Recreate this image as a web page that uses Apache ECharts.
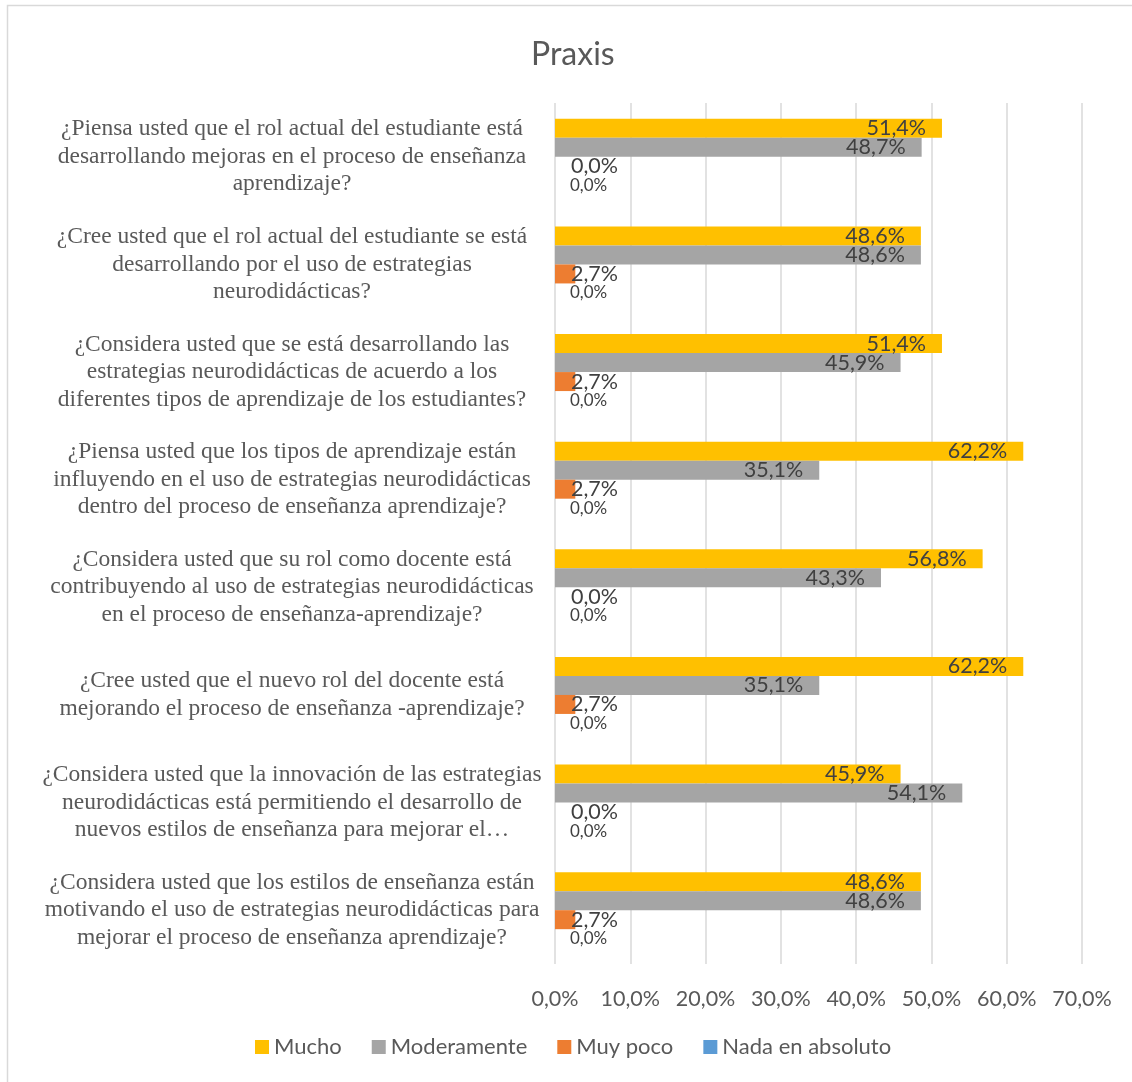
<!DOCTYPE html>
<html>
<head>
<meta charset="utf-8">
<title>Praxis</title>
<script src="https://cdn.jsdelivr.net/npm/echarts@6/dist/echarts.min.js"></script>
<style>
html, body { margin: 0; padding: 0; background: #fff; }
#main { width: 1132px; height: 1082px; }
</style>
</head>
<body>
<div id="main"></div>
<script>
// preguntas (eje vertical)
var categories = [
	"¿Piensa usted que el rol actual del estudiante está\ndesarrollando mejoras en el proceso de enseñanza\naprendizaje?",
	"¿Cree usted que el rol actual del estudiante se está\ndesarrollando por el uso de estrategias\nneurodidácticas?",
	"¿Considera usted que se está desarrollando las\nestrategias neurodidácticas de acuerdo a los\ndiferentes tipos de aprendizaje de los estudiantes?",
	"¿Piensa usted que los tipos de aprendizaje están\ninfluyendo en el uso de estrategias neurodidácticas\ndentro del proceso de enseñanza aprendizaje?",
	"¿Considera usted que su rol como docente está\ncontribuyendo al uso de estrategias neurodidácticas\nen el proceso de enseñanza-aprendizaje?",
	"¿Cree usted que el nuevo rol del docente está\nmejorando el proceso de enseñanza -aprendizaje?",
	"¿Considera usted que la innovación de las estrategias\nneurodidácticas está permitiendo el desarrollo de\nnuevos estilos de enseñanza para mejorar el…",
	"¿Considera usted que los estilos de enseñanza están\nmotivando el uso de estrategias neurodidácticas para\nmejorar el proceso de enseñanza aprendizaje?"
];

var mucho       = [51.4, 48.6, 51.4, 62.2, 56.8, 62.2, 45.9, 48.6];
var moderamente = [48.7, 48.6, 45.9, 35.1, 43.3, 35.1, 54.1, 48.6];
var muyPoco     = [0.0, 2.7, 2.7, 2.7, 0.0, 2.7, 0.0, 2.7];
var nada        = [0.0, 0.0, 0.0, 0.0, 0.0, 0.0, 0.0, 0.0];

var xTicks = [0, 10, 20, 30, 40, 50, 60, 70];

var fmt = function(v){
	return v.toFixed(1).replace(".", ",") + "%";
}
var labelFmt = function(p){ return fmt(p.value); }

var sansFont = "Lato, 'Open Sans', sans-serif";
var txtColor = "#404040";

var chart = echarts.init(document.getElementById("main"));

var option = {
	backgroundColor: "#ffffff",
	animation: false,
	title: {
		text: "Praxis",
		left: 526,
		top: 34,
		textStyle: { fontFamily: sansFont, fontSize: 32, fontWeight: "normal", color: "#595959" }
	},
	legend: {
		bottom: 19,
		left: 250,
		itemWidth: 14,
		itemHeight: 14,
		itemGap: 30,
		icon: "rect",
		textStyle: { fontFamily: sansFont, fontSize: 22, color: "#595959" },
		data: ["Mucho", "Moderamente", "Muy poco", "Nada en absoluto"]
	},
	grid: { left: 555, right: 50, top: 103, bottom: 118 },
	xAxis: {
		type: "value",
		min: xTicks[0],
		max: xTicks[xTicks.length - 1],
		interval: 10,
		axisLine: { show: false },
		axisTick: { show: false },
		splitLine: { lineStyle: { color: "#d9d9d9", width: 1.5 } },
		axisLabel: {
			margin: 24,
			fontFamily: sansFont,
			fontSize: 21.5,
			color: "#595959",
			formatter: function(v){ return fmt(v); }
		}
	},
	yAxis: {
		type: "category",
		inverse: true,
		data: categories,
		axisLine: { show: false },
		axisTick: { show: false },
		axisLabel: {
			align: "center",
			margin: 263,
			padding: [12, 0, 0, 0],
			fontFamily: "'Liberation Serif', 'Times New Roman', serif",
			fontSize: 23.5,
			lineHeight: 27.5,
			color: "#595959"
		}
	},
	series: [
		{
			name: "Mucho", type: "bar", data: mucho,
			barWidth: 19, barGap: "0%",
			itemStyle: { color: "#ffc000" },
			label: { show: true, position: "insideRight", distance: 16, formatter: labelFmt,
				fontFamily: sansFont, fontSize: 21.5, color: txtColor }
		},
		{
			name: "Moderamente", type: "bar", data: moderamente,
			barWidth: 19, barGap: "0%",
			itemStyle: { color: "#a5a5a5" },
			label: { show: true, position: "insideRight", distance: 16, formatter: labelFmt,
				fontFamily: sansFont, fontSize: 21.5, color: txtColor }
		},
		{
			name: "Muy poco", type: "bar", data: muyPoco,
			barWidth: 19, barGap: "0%",
			itemStyle: { color: "#ed7d31" },
			label: { show: true, position: "insideLeft", distance: 16, formatter: labelFmt,
				fontFamily: sansFont, fontSize: 21.5, color: txtColor }
		},
		{
			name: "Nada en absoluto", type: "bar", data: nada,
			barWidth: 19, barGap: "0%",
			itemStyle: { color: "#5b9bd5" },
			label: { show: true, position: "insideLeft", distance: 15, formatter: labelFmt,
				fontFamily: sansFont, fontSize: 17, color: txtColor }
		}
	],
	graphic: [
		{
			type: "polyline",
			shape: { points: [[7.5, 1082], [7.5, 5.5], [1132, 5.5]] },
			style: { stroke: "#d9d9d9", lineWidth: 1.5, fill: null }
		}
	]
};

chart.setOption(option);
</script>
</body>
</html>
